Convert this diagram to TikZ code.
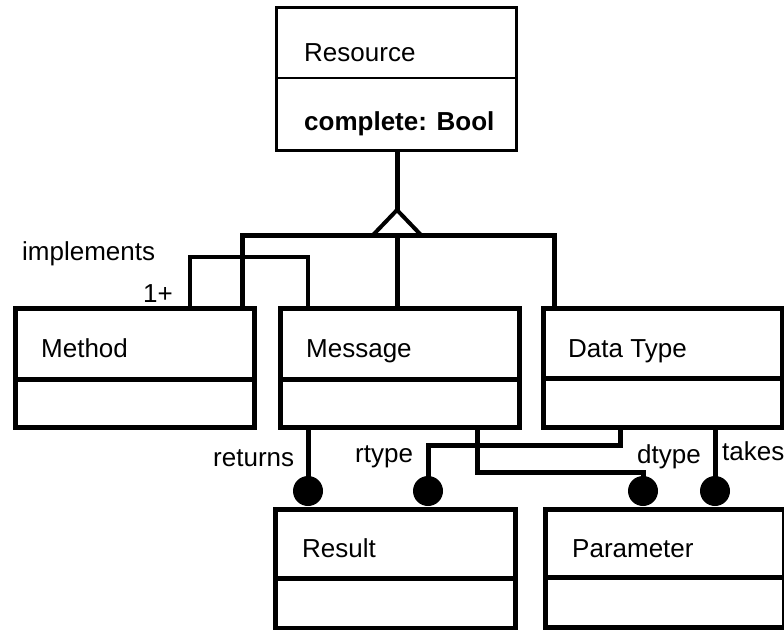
\documentclass[tikz,border=0pt]{standalone}
\usepackage{fontspec}
\setmainfont{Liberation Sans}
\usetikzlibrary{calc}
\begin{document}
\begin{tikzpicture}[x=1pt,y=-1pt,
  cls/.style={draw, line width=5pt, inner sep=0pt, anchor=north west, minimum width=239pt, minimum height=119pt},
  lbl/.style={inner sep=0pt, anchor=base west, font=\fontsize{26}{30}\selectfont},
  inh/.style={line width=5pt, line cap=rect, line join=miter},
  impl/.style={line width=4pt, line cap=rect, line join=miter},
  assoc/.style={line width=5pt, line cap=rect, line join=miter},
  tri/.style={line width=4pt, line join=miter},
  ball/.style={circle, fill=black, minimum size=30pt, inner sep=0pt},
  divline/.style={line width=5pt}]
\useasboundingbox (0,0) rectangle (784,629);

% class boxes
\node[cls, line width=2.5pt, minimum width=240pt, minimum height=143pt] (res) at (275,6) {};
\draw[line width=2.5pt] ($(res.north west)+(0,72)$) -- ($(res.north east)+(0,72)$);
\node[cls] (method) at (13,306) {};
\draw[divline] ($(method.north west)+(0,73)$) -- ($(method.north east)+(0,73)$);
\node[cls] (msg) at (278,306) {};
\draw[divline] ($(msg.north west)+(0,73)$) -- ($(msg.north east)+(0,73)$);
\node[cls] (dt) at (541,306) {};
\draw[divline] ($(dt.north west)+(0,72)$) -- ($(dt.north east)+(0,72)$);
\node[cls, minimum width=240pt] (result) at (273,507) {};
\draw[divline] ($(result.north west)+(0,71)$) -- ($(result.north east)+(0,71)$);
\node[cls, minimum height=118pt] (param) at (543,507) {};
\draw[divline] ($(param.north west)+(0,70)$) -- ($(param.north east)+(0,70)$);

% class texts
\node[lbl] (res-t) at (304,61) {Resource};
\node[lbl, font=\fontsize{26}{30}\selectfont\bfseries] (res-a) at (304,130) {complete: Bool};
\node[lbl] (method-t) at (41,357) {Method};
\node[lbl] (msg-t) at (306,357) {Message};
\node[lbl] (dt-t) at (568,357) {Data Type};
\node[lbl] (result-t) at (302,557) {Result};
\node[lbl] (param-t) at (572,557) {Parameter};

% inheritance
\coordinate (apex) at (397,210);
\coordinate (bl) at (242,235);
\coordinate (br) at (554,235);
\draw[inh] (res.south -| apex) -- (apex);
\draw[inh] (method.north -| bl) -- (bl) -- (br) -- (dt.north -| br);
\draw[inh] (msg.north -| apex) -- (apex |- bl);
\draw[tri] ($(apex)+(-24,25)$) -- (apex) -- ($(apex)+(24,25)$);

% implements
\coordinate (i1) at (190,257);
\coordinate (i2) at (308,257);
\draw[impl] (method.north -| i1) -- (i1) -- (i2) -- (msg.north -| i2);
\node[lbl] (impl-l) at (22,260) {implements};
\node[lbl, anchor=base east] (mult-l) at (173,302) {1+};

% associations
\node[ball] (b1) at (308,491) {};
\node[ball] (b2) at (428,491) {};
\node[ball] (b3) at (643,491) {};
\node[ball] (b4) at (715,491) {};
\coordinate (rt) at (620,445);
\coordinate (dc) at (477,472);
\draw[assoc] (msg.south -| b1) -- (b1.center);
\draw[assoc] (dt.south -| rt) -- (rt) -| (b2.center);
\draw[assoc] (msg.south -| dc) -- (dc) -| (b3.center);
\draw[assoc] (dt.south -| b4) -- (b4.center);

\node[lbl] (ret-l) at (213,466) {returns};
\node[lbl] (rtype-l) at (355,462) {rtype};
\node[lbl] (dtype-l) at (637,463) {dtype};
\node[lbl] (takes-l) at (722,460) {takes};
\end{tikzpicture}
\end{document}
